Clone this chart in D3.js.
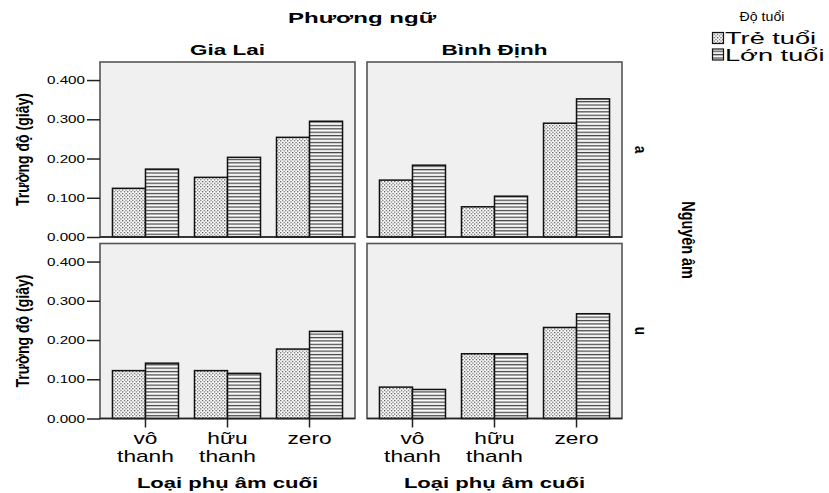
<!DOCTYPE html>
<html>
<head>
<meta charset="utf-8">
<script src="https://cdn.jsdelivr.net/npm/d3@7"></script>
<style>
  body { margin: 0; background: #fff; }
  text { font-family: "Liberation Sans", Arial, sans-serif; fill: #000; }
</style>
</head>
<body>
<svg id="chart" width="829" height="493"></svg>
<script>
// data
const categories = ["vô thanh", "hữu thanh", "zero"];
const dialects = ["Gia Lai", "Bình Định"];
const vowels = ["a", "u"];
const ages = ["Trẻ tuổi", "Lớn tuổi"];
const yTicks = [0, 0.1, 0.2, 0.3, 0.4];

// Trường độ, by vowel / dialect / age
const treGiaLaiA = [0.124, 0.152, 0.254];
const lonGiaLaiA = [0.173, 0.203, 0.295];
const treBinhDinhA = [0.145, 0.077, 0.290];
const lonBinhDinhA = [0.183, 0.104, 0.352];
const treGiaLaiU = [0.122, 0.122, 0.177];
const lonGiaLaiU = [0.141, 0.115, 0.222];
const treBinhDinhU = [0.080, 0.165, 0.232];
const lonBinhDinhU = [0.074, 0.165, 0.267];

const panels = [
  { row: 0, col: 0, tre: treGiaLaiA, lon: lonGiaLaiA },
  { row: 0, col: 1, tre: treBinhDinhA, lon: lonBinhDinhA },
  { row: 1, col: 0, tre: treGiaLaiU, lon: lonGiaLaiU },
  { row: 1, col: 1, tre: treBinhDinhU, lon: lonBinhDinhU }
];

const svg = d3.select("#chart");
const panelW = 255, panelH = 175;
const colX = [100, 367];
const rowY = [62, 243.5];

// patterns
const defs = svg.append("defs");
const dots = defs.append("pattern").attr("id", "dots")
  .attr("patternUnits", "userSpaceOnUse").attr("width", 3.4).attr("height", 3.4);
dots.append("rect").attr("width", 3.4).attr("height", 3.4).attr("fill", "#fff");
dots.append("rect").attr("x", 0).attr("y", 0).attr("width", 1.2).attr("height", 1.2).attr("fill", "#444");
dots.append("rect").attr("x", 1.7).attr("y", 1.7).attr("width", 1.2).attr("height", 1.2).attr("fill", "#444");

const hlines = defs.append("pattern").attr("id", "hlines")
  .attr("patternUnits", "userSpaceOnUse").attr("width", 6).attr("height", 3.4);
hlines.append("rect").attr("width", 6).attr("height", 3.4).attr("fill", "#fff");
hlines.append("rect").attr("y", 1.6).attr("width", 6).attr("height", 1.3).attr("fill", "#444");

const fills = d3.scaleOrdinal().domain(ages).range(["url(#dots)", "url(#hlines)"]);

const y = d3.scaleLinear().domain([0, 0.446]).range([panelH, 0]);
const x = d3.scaleBand().domain(categories).range([0, panelW])
  .paddingInner(0.195).paddingOuter(0.152);
const xAge = d3.scaleBand().domain(ages).range([0, x.bandwidth()]);

// stretched text helper (the source renders wide glyphs)
function label(g, x0, y0, str, size, weight, sx, anchor, rot) {
  let t = `translate(${x0},${y0})`;
  if (rot) t += ` rotate(${rot})`;
  t += ` scale(${sx},1)`;
  return g.append("text").attr("transform", t)
    .attr("font-size", size).attr("font-weight", weight)
    .attr("text-anchor", anchor || "middle").text(str);
}

panels.forEach(p => {
  const g = svg.append("g").attr("transform", `translate(${colX[p.col]},${rowY[p.row]})`);
  g.append("rect").attr("width", panelW).attr("height", panelH)
    .attr("fill", "#f0f0f0").attr("stroke", "#555").attr("stroke-width", 1.6);

  categories.forEach((c, i) => {
    const vals = [p.tre[i], p.lon[i]];
    ages.forEach((a, k) => {
      g.append("rect")
        .attr("x", x(c) + xAge(a))
        .attr("y", y(vals[k]))
        .attr("width", xAge.bandwidth())
        .attr("height", y(0) - y(vals[k]))
        .attr("fill", fills(a))
        .attr("stroke", "#111").attr("stroke-width", 1.5);
    });
  });

  // baseline
  g.append("line").attr("x1", 0).attr("x2", panelW).attr("y1", y(0)).attr("y2", y(0))
    .attr("stroke", "#222").attr("stroke-width", 1.5);

  if (p.col === 0) {
    const ax = g.append("g").call(d3.axisLeft(y).tickValues(yTicks).tickSize(13)
      .tickFormat(d3.format(".3f")));
    ax.select(".domain").remove();
    ax.selectAll(".tick line").attr("stroke", "#222").attr("stroke-width", 1.5);
    ax.selectAll(".tick text").remove();
    yTicks.forEach(v => {
      label(g, -15, y(v) + 4, d3.format(".3f")(v), 11, "normal", 1.38, "end")
        .attr("fill", "#222");
    });
  }

  if (p.row === 1) {
    const ax = g.append("g").attr("transform", `translate(0,${panelH})`)
      .call(d3.axisBottom(x).tickSize(9).tickFormat(""));
    ax.select(".domain").remove();
    ax.selectAll(".tick line").attr("stroke", "#222").attr("stroke-width", 1.5);
    categories.forEach(c => {
      const words = c.split(" ");
      const cx = x(c) + x.bandwidth() / 2;
      words.forEach((w, j) => {
        const yy = panelH + 25 + j * 18;
        label(g, cx, yy, w, 16, "normal", 1.42).attr("fill", "#222");
      });
    });
    label(g, panelW / 2, panelH + 69, "Loại phụ âm cuối", 15, "bold", 1.47);
  }

  if (p.row === 0) {
    label(g, panelW / 2, -7, dialects[p.col], 15, "bold", 1.5);
  }

  if (p.col === 0) {
    label(g, -71, panelH / 2, "Trường độ (giây)", 18, "bold", 0.78, "middle", -90);
  }

  if (p.col === 1) {
    label(g, panelW + 13, panelH / 2, vowels[p.row], 17, "bold", 0.8, "middle", 90);
  }
});

// overall titles
label(svg, 362, 23, "Phương ngữ", 14, "bold", 1.72);
label(svg, 682, 240, "Nguyên âm", 18, "bold", 0.8, "middle", 90);

// legend
label(svg, 762, 21, "Độ tuổi", 12, "normal", 1.18).attr("fill", "#222");
const leg = svg.append("g").attr("transform", "translate(712,32)");
ages.forEach((a, i) => {
  leg.append("rect").attr("x", 0.5).attr("y", i * 16.5 + 0.5).attr("width", 11).attr("height", 11)
    .attr("fill", fills(a)).attr("stroke", "#111").attr("stroke-width", 1.2);
  label(leg, 13, i * 16.5 + 12, a, 16, "normal", 1.7, "start").attr("fill", "#222");
});
</script>
</body>
</html>
